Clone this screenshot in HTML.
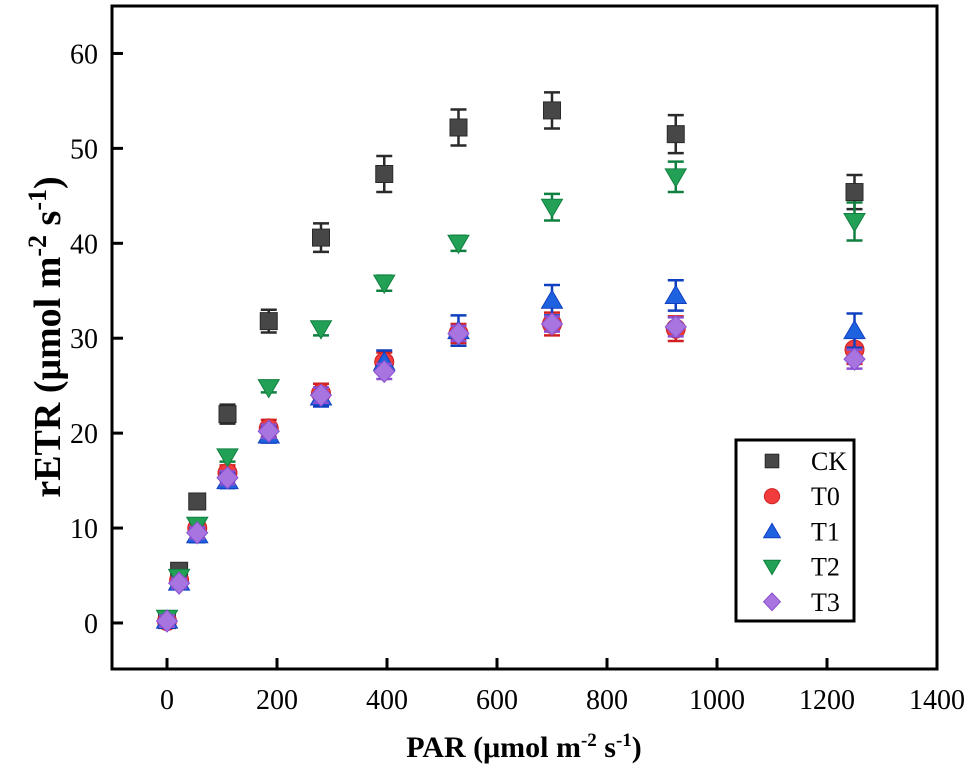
<!DOCTYPE html>
<html><head><meta charset="utf-8"><style>
html,body{margin:0;padding:0;background:#fff;}
svg{display:block;font-family:"Liberation Serif",serif;}
</style></head><body>
<svg id="chart" width="975" height="784" viewBox="0 0 975 784" xmlns="http://www.w3.org/2000/svg">
<g id="marks"></g>
<g id="axes"></g>
<text x="524" y="757" text-anchor="middle" font-size="30" font-weight="bold">PAR (μmol m<tspan dy="-11" font-size="19">-2</tspan><tspan dy="11"> s</tspan><tspan dy="-11" font-size="19">-1</tspan><tspan dy="11">)</tspan></text>
<text transform="translate(60,337) rotate(-90)" text-anchor="middle" font-size="38" font-weight="bold">rETR (μmol m<tspan dy="-14" font-size="26">-2</tspan><tspan dy="14"> s</tspan><tspan dy="-14" font-size="26">-1</tspan><tspan dy="14">)</tspan></text>
</svg>
<script>
const parValues = [0, 22, 55, 110, 185, 280, 395, 530, 700, 925, 1250];
const ckValues = [0.3, 5.5, 12.8, 22, 31.8, 40.6, 47.3, 52.2, 54, 51.5, 45.4];
const ckErr = [0.5, 0.5, 0.6, 1, 1.2, 1.5, 1.9, 1.9, 1.9, 2, 1.8];
const t0Values = [0.2, 4.5, 10, 15.8, 20.5, 24.2, 27.5, 30.5, 31.5, 31, 28.8];
const t0Err = [0.6, 0.5, 0.6, 0.8, 0.9, 1, 1, 1, 1.2, 1.3, 1.5];
const t1Values = [0.3, 4.3, 9.3, 15, 19.8, 23.8, 27.5, 30.8, 34, 34.5, 30.8];
const t1Err = [0.8, 0.7, 0.8, 0.8, 0.8, 1, 1.2, 1.6, 1.6, 1.6, 1.8];
const t2Values = [0.5, 4.8, 10.3, 17.5, 24.8, 31, 35.8, 40, 43.8, 47, 42.3];
const t2Err = [0.5, 0.5, 0.5, 0.5, 0.5, 0.7, 0.8, 0.8, 1.4, 1.6, 2];
const t3Values = [0.2, 4.2, 9.5, 15.3, 20.2, 24, 26.5, 30.5, 31.5, 31.2, 27.8];
const t3Err = [0.6, 0.5, 0.6, 0.7, 0.7, 0.8, 0.8, 0.8, 0.8, 1, 1];
const seriesNames = ["CK", "T0", "T1", "T2", "T3"];
const xTicks = [0, 200, 400, 600, 800, 1000, 1200, 1400];
const yTicks = [0, 10, 20, 30, 40, 50, 60];

const NS = "http://www.w3.org/2000/svg";
const X0 = 112, X1 = 937, Y0 = 669, Y1 = 6;
const xMin = -100, xMax = 1400, yMin = -4.85, yMax = 65;
function sx(v){ return X0 + (v - xMin) / (xMax - xMin) * (X1 - X0); }
function sy(v){ return Y0 - (v - yMin) / (yMax - yMin) * (Y0 - Y1); }
function mk(tag, attrs, parent){ const e = document.createElementNS(NS, tag); for (const k in attrs) e.setAttribute(k, attrs[k]); parent.appendChild(e); return e; }

const axes = document.getElementById("axes");
const marks = document.getElementById("marks");
const frame = mk("rect", {x: X0, y: Y1, width: X1 - X0, height: Y0 - Y1, fill: "none", stroke: "#000", "stroke-width": 3}, axes);


xTicks.forEach(t => {
  const ln = mk("line", {x1: sx(t), x2: sx(t), y1: Y0, y2: Y0 - 11, stroke: "#000", "stroke-width": 3}, axes);
  
  
  const tx = mk("text", {x: sx(t), y: Y0 + 40, "text-anchor": "middle", "font-size": 28}, axes);
  tx.textContent = t;
  
  
});
yTicks.forEach(t => {
  const ln = mk("line", {x1: X0, x2: X0 + 11, y1: sy(t), y2: sy(t), stroke: "#000", "stroke-width": 3}, axes);
  
  
  const tx = mk("text", {x: X0 - 14, y: sy(t) + 10, "text-anchor": "end", "font-size": 28}, axes);
  tx.textContent = t;
  
  
});

const styles = [
  {fill: "#474747", stroke: "#2a2a2a", shape: "square"},
  {fill: "#f03c3c", stroke: "#d02020", shape: "circle"},
  {fill: "#1f62e0", stroke: "#1040c0", shape: "up"},
  {fill: "#22a055", stroke: "#108040", shape: "down"},
  {fill: "#a774e0", stroke: "#8a50d0", shape: "diamond"}
];
function marker(shape, cx, cy, st, parent, r){
  r = r || 10;
  if (shape === "square") return mk("rect", {x: cx - r*0.85, y: cy - r*0.85, width: r*1.7, height: r*1.7, fill: st.fill, stroke: st.stroke, "stroke-width": 1}, parent);
  if (shape === "circle") return mk("circle", {cx: cx, cy: cy, r: r*0.95, fill: st.fill, stroke: st.stroke, "stroke-width": 1}, parent);
  if (shape === "up") return mk("polygon", {points: `${cx},${cy-r} ${cx-r*1.05},${cy+r*0.8} ${cx+r*1.05},${cy+r*0.8}`, fill: st.fill, stroke: st.stroke, "stroke-width": 1}, parent);
  if (shape === "down") return mk("polygon", {points: `${cx},${cy+r} ${cx-r*1.05},${cy-r*0.8} ${cx+r*1.05},${cy-r*0.8}`, fill: st.fill, stroke: st.stroke, "stroke-width": 1}, parent);
  return mk("polygon", {points: `${cx},${cy-r*1.1} ${cx+r*1.05},${cy} ${cx},${cy+r*1.1} ${cx-r*1.05},${cy}`, fill: st.fill, stroke: st.stroke, "stroke-width": 1}, parent);
}
const allVals = [ckValues, t0Values, t1Values, t2Values, t3Values];
const allErr = [ckErr, t0Err, t1Err, t2Err, t3Err];
allVals.forEach((vals, si) => {
  const st = styles[si];
  const g = mk("g", {}, marks);
  
  
  vals.forEach((v, i) => {
    const cx = sx(parValues[i]), e = allErr[si][i];
    const yt = sy(v + e), yb = sy(v - e);
    const eb = mk("path", {d: `M${cx},${yt}V${yb}M${cx-8},${yt}H${cx+8}M${cx-8},${yb}H${cx+8}`, stroke: st.stroke, "stroke-width": 2.5, fill: "none"}, g);
    
    
    const m = marker(st.shape, cx, sy(v), st, g);
    
    
  });
});

const lg = mk("g", {}, axes);


mk("rect", {x: 736, y: 440, width: 118, height: 181, fill: "#fff", stroke: "#000", "stroke-width": 3}, lg);
seriesNames.forEach((n, i) => {
  const y = 461 + i * 35.2;
  const ent = mk("g", {}, lg);
  
  
  marker(styles[i].shape, 772, y, styles[i], ent, 8);
  const t = mk("text", {x: 811, y: y + 9, "font-size": 26}, ent);
  t.textContent = n;
});
</script>
</body></html>
